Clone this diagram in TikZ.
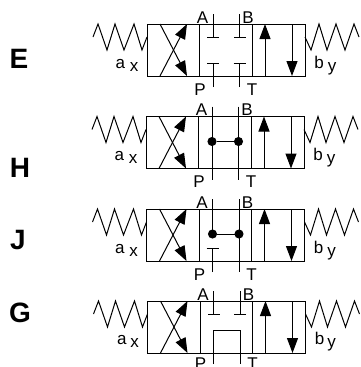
\documentclass[tikz,border=0pt]{standalone}
\usepackage{fontspec}
\setmainfont{Liberation Sans}
\usetikzlibrary{arrows.meta}

\tikzset{
	lbl/.style={inner sep=0pt, anchor=base, font=\fontsize{17}{17}\selectfont},
	tag/.style={inner sep=0pt, font=\fontsize{28}{28}\selectfont\bfseries},
	dot/.style={circle, fill=black, draw=black, inner sep=0pt, minimum size=8pt},
	flow/.style={-{Triangle[length=15pt, width=11pt]}},
	stop/.style={-{Bar[width=12pt, line width=1pt]}},
	valve/.pic={
		\coordinate (-A) at (66,-10);
		\coordinate (-B) at (92.5,-10);
		\coordinate (-P) at (66,63);
		\coordinate (-T) at (92.5,63);
		\coordinate (-a) at (66,14);
		\coordinate (-b) at (92.5,14);
		\coordinate (-p) at (66,39);
		\coordinate (-t) at (92.5,39);
		\coordinate (-c) at (66,25);
		\coordinate (-d) at (92.5,25);
		\coordinate (-u) at (66,29);
		\coordinate (-v) at (92.5,29);
		\draw (0,0) rectangle (158,52);
		\draw (52.5,0) -- (52.5,52);
		\draw (105,0) -- (105,52);
		\draw[flow] (13,0) -- (40,52);
		\draw[flow] (13,52) -- (40,0);
		\draw[flow] (118,52) -- (118,0);
		\draw[flow] (145,0) -- (145,52);
		% springs
		\draw (0,13) -- (-5,26) -- (-13,0) -- (-23,26) -- (-32,0) -- (-40,26) -- (-49,0) -- (-54,13);
		\draw (158,13) -- (164,26) -- (172,0) -- (180,26) -- (189,0) -- (198,26) -- (207,0) -- (212,13);
		\node[lbl] (-lA) at (55.5,-1) {A};
		\node[lbl] (-lB) at (101,-1) {B};
	}
}

\begin{document}
\begin{tikzpicture}[x=1pt, y=-1pt, line width=1pt]
	\useasboundingbox (0,0) rectangle (360,367);

	\pic (e) at (147,24) {valve};
	\pic (h) at (146,116.5) {valve};
	\pic (j) at (146.5,209) {valve};
	\pic (g) at (147.5,301) {valve};

	\foreach \r/\px/\py/\dx/\dy/\dz in {e/147/24/0/0/0, h/146/116.5/0/0/0, j/146.5/209/0/0/0, g/147.5/301/1/1/3}{
		\node[lbl] (\r-na) at (\px-26.7+\dx,\py+44-\dy) {a};
		\node[lbl] (\r-nx) at (\px-13,\py+47-\dy) {x};
		\node[lbl] (\r-nb) at (\px+172,\py+44-\dy) {b};
		\node[lbl] (\r-ny) at (\px+185-\dx,\py+47-\dy) {y};
		\node[lbl] (\r-lP) at (\px+53,\py+71-\dz) {P};
		\node[lbl] (\r-lT) at (\px+105,\py+71-\dz) {T};
	}

	\node[tag] (tagE) at (19,59) {E};
	\node[tag] (tagH) at (20,168) {H};
	\node[tag] (tagJ) at (18,240) {J};
	\node[tag] (tagG) at (20,313) {G};

	\draw[stop] (e-A) -- (e-a);
	\draw[stop] (e-B) -- (e-b);
	\draw[stop] (e-P) -- (e-p);
	\draw[stop] (e-T) -- (e-t);

	\node[dot] (h1) at (h-c) {};
	\node[dot] (h2) at (h-d) {};
	\draw (h-A) -- (h-P);
	\draw (h-B) -- (h-T);
	\draw (h1) -- (h2);

	\node[dot] (j1) at (j-c) {};
	\node[dot] (j2) at (j-d) {};
	\draw (j-A) -- (j1);
	\draw (j-B) -- (j-T);
	\draw (j1) -- (j2);
	\draw[stop] (j-P) -- (j-p);

	\draw[stop] (g-A) -- (g-a);
	\draw[stop] (g-B) -- (g-b);
	\draw (g-P) -- (g-u) -- (g-v) -- (g-T);
\end{tikzpicture}
\end{document}
